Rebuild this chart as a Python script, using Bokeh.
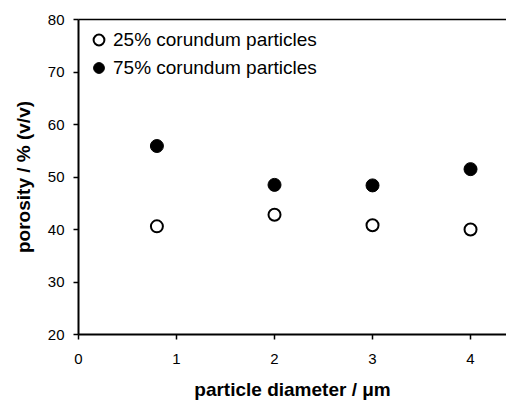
from bokeh.plotting import figure
from bokeh.models import Range1d, FixedTicker, LinearAxis
from bokeh.embed import file_html
from bokeh.resources import INLINE

diameter = [0.8, 2, 3, 4]
por25 = [40.6, 42.8, 40.8, 40.0]
por75 = [55.9, 48.5, 48.4, 51.5]
xticks = [0, 1, 2, 3, 4]
yticks = [20, 30, 40, 50, 60, 70, 80]

p = figure(width=506, height=403, output_backend="svg", toolbar_location=None,
           x_range=Range1d(0, 4.367), y_range=Range1d(20, 80),
           min_border_left=78, min_border_right=0, min_border_top=19, min_border_bottom=69)
p.grid.visible = False
p.outline_line_color = None
p.background_fill_color = "white"

bx = p.below[0]
ly = p.left[0]

top_axis = LinearAxis(ticker=FixedTicker(ticks=[]), axis_line_width=1.5, axis_line_color="black",
                      major_label_text_font_size="0px", major_tick_line_color=None,
                      minor_tick_line_color=None, major_label_standoff=0)
p.add_layout(top_axis, "above")

p.scatter(diameter, por25, size=12, fill_color="white", line_color="black", line_width=2,
          legend_label="25% corundum particles")
p.scatter(diameter, por75, size=13, fill_color="black", line_color="black", line_width=1,
          legend_label="75% corundum particles")

for ax in (bx, ly):
    ax.axis_line_width = 2
    ax.axis_line_color = "black"
    ax.major_tick_line_color = "black"
    ax.major_tick_line_width = 1.5
    ax.major_tick_out = 5
    ax.major_tick_in = 0
    ax.minor_tick_line_color = None
    ax.major_label_text_font = "Liberation Sans"
    ax.major_label_text_font_size = "15px"
    ax.major_label_text_color = "black"
    ax.axis_label_text_font = "Liberation Sans"
    ax.axis_label_text_font_style = "bold"
    ax.axis_label_text_color = "black"

bx.ticker = FixedTicker(ticks=xticks)
ly.ticker = FixedTicker(ticks=yticks)
bx.axis_label = "particle diameter / \u03bcm"
ly.axis_label = "porosity / % (v/v)"
bx.axis_label_text_font_size = "19px"
ly.axis_label_text_font_size = "19px"
bx.major_label_standoff = 14
bx.axis_label_standoff = 12
ly.major_label_standoff = 9
ly.axis_label_standoff = 11

lg = p.legend[0]
lg.location = "top_left"
lg.border_line_color = None
lg.background_fill_alpha = 0
lg.label_text_font = "Liberation Sans"
lg.label_text_font_size = "19px"
lg.label_text_color = "black"
lg.glyph_width = 27
lg.glyph_height = 27
lg.label_standoff = 1
lg.spacing = 1
lg.margin = 7
lg.padding = 7

open("out.html", "w").write(file_html(p, INLINE))
